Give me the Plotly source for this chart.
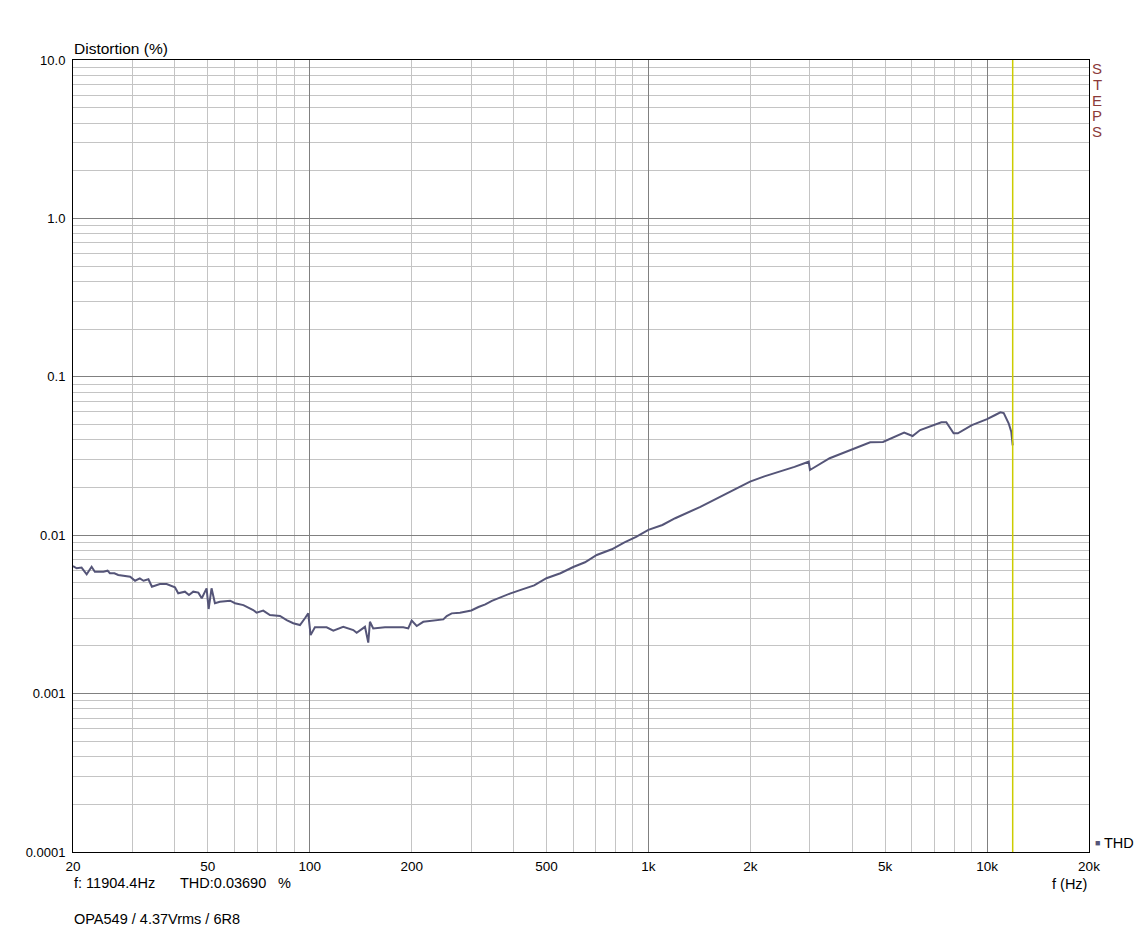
import plotly.graph_objects as go

# THD curve (frequency in Hz, distortion in %)
freq = [20, 20.5, 21.2, 21.95, 22.7, 23.2, 24.6, 25.3, 25.7, 26.5, 27.2, 29.5, 30.5, 31.5,
        32.3, 33.4, 34.2, 36.1, 37.8, 40.0, 40.9, 42.8, 44.0, 45.3, 46.9, 48.0, 49.6, 50.3,
        51.3, 52.5, 54.3, 58.2, 60.2, 63.7, 68.1, 69.7, 72.9, 76.3, 81.7, 85.5, 89.4, 93.6,
        96.8, 99.0, 100.6, 103.6, 112.2, 117.4, 125.6, 134.5, 137.6, 145.6, 148.9, 150.6,
        154.0, 166.8, 188.9, 195.4, 200, 207, 216.4, 237, 248, 253.8, 262.6, 277.8,
        300, 315, 330, 345, 360, 390, 420, 460, 500, 550, 600, 650, 704, 780, 850, 920,
        1000, 1100, 1200, 1424, 1700, 1996, 2200, 2452,
        2700, 2974, 3000, 3430, 3938, 4519, 4929, 5692, 6026, 6345, 7330, 7580, 7966, 8200,
        9020, 10000, 10570, 10950, 11200, 11580, 11790, 11904.4]
thd = [0.00639, 0.00618, 0.00625, 0.00566, 0.00632, 0.00588, 0.00588, 0.00597, 0.00575,
       0.00575, 0.00561, 0.00547, 0.00516, 0.00534, 0.00516, 0.00527, 0.00473, 0.00492,
       0.00492, 0.00469, 0.00430, 0.00440, 0.00419, 0.00440, 0.00434, 0.00400, 0.00462,
       0.00342, 0.00462, 0.00372, 0.00380, 0.00386, 0.00372, 0.00362, 0.00337, 0.00324,
       0.00334, 0.00313, 0.00309, 0.00291, 0.00278, 0.00271, 0.00299, 0.00321, 0.00234,
       0.00262, 0.00262, 0.00250, 0.00264, 0.00252, 0.00242, 0.00264, 0.00210, 0.00284,
       0.00258, 0.00262, 0.00262, 0.00258, 0.00289, 0.00267, 0.00284, 0.00289, 0.00294,
       0.00309, 0.00321, 0.00324,
       0.00335, 0.00352, 0.00366, 0.00385, 0.00400, 0.00428, 0.00452, 0.00482, 0.00535,
       0.00575, 0.00630, 0.00675, 0.00750, 0.00815, 0.00900, 0.00975,
       0.01080, 0.01160, 0.01280, 0.01510, 0.01830, 0.02180, 0.02350, 0.02520,
       0.02700, 0.02910, 0.02580,
       0.03060, 0.03450, 0.03860, 0.03880, 0.04440, 0.04230, 0.04610, 0.05160, 0.05160,
       0.04400, 0.04400, 0.04960, 0.05400, 0.05740, 0.05970, 0.05900, 0.05090, 0.04500,
       0.03690]

cursor_f = 11904.4
cursor_thd = 0.03690

x_tick_vals = [20, 50, 100, 200, 500, 1000, 2000, 5000, 10000, 20000]
x_tick_text = ["20", "50", "100", "200", "500", "1k", "2k", "5k", "10k", "20k"]
x_major = [100, 1000, 10000]
x_minor = [m * d for d in (10, 100, 1000) for m in range(2, 10) if 20 < m * d < 20000]
y_tick_vals = [0.0001, 0.001, 0.01, 0.1, 1, 10]
y_tick_text = ["0.0001", "0.001", "0.01", "0.1", "1.0", "10.0"]
y_minor = [m * d for d in (0.0001, 0.001, 0.01, 0.1, 1) for m in range(2, 10)]

LINE = "#555578"
FONT = "Liberation Sans, Arial, sans-serif"

fig = go.Figure()
fig.add_trace(go.Scatter(x=freq, y=thd, mode="lines", line=dict(color=LINE, width=2),
                         name="THD", showlegend=False, xaxis="x", yaxis="y"))
fig.add_trace(go.Scatter(x=[cursor_f, cursor_f], y=[0.0001, 10], mode="lines",
                         line=dict(color="#cccc00", width=1.5), showlegend=False,
                         xaxis="x2", yaxis="y"))

xr = [1.30103, 4.30103]
# page body has an 8px margin: plot area lands at x 73..1089, y 60..852
fig.update_layout(
    width=1140, height=924,
    margin=dict(l=65, r=59, t=52, b=80),
    paper_bgcolor="white", plot_bgcolor="white",
    font=dict(family=FONT, size=13, color="black"),
    xaxis=dict(type="log", range=xr, tickvals=x_major, showticklabels=False,
               showgrid=True, gridcolor="#808080", gridwidth=1, zeroline=False,
               showline=True, mirror=True, linecolor="black", linewidth=1, ticks="",
               minor=dict(tickvals=x_minor, showgrid=True, gridcolor="#c4c4c4",
                          gridwidth=1, ticks="")),
    xaxis2=dict(type="log", range=xr, overlaying="x", side="bottom",
                tickvals=x_tick_vals, ticktext=x_tick_text, showgrid=False,
                zeroline=False, showline=False, ticks="outside", ticklen=2,
                tickcolor="rgba(0,0,0,0)", tickfont=dict(size=13.5)),
    yaxis=dict(type="log", range=[-4, 1], tickvals=y_tick_vals, ticktext=y_tick_text,
               showgrid=True, gridcolor="#808080", gridwidth=1, zeroline=False,
               showline=True, mirror=True, linecolor="black", linewidth=1,
               ticks="outside", ticklen=4, tickcolor="rgba(0,0,0,0)",
               tickfont=dict(size=13),
               minor=dict(tickvals=y_minor, showgrid=True, gridcolor="#c4c4c4",
                          gridwidth=1, ticks="")),
)

def px_x(p):
    return (p - 73) / 1016.0

def px_y(p):
    return (852 - p) / 792.0

ann = []
def add(text, x, y, xa="left", ya="middle", size=14.5, color="black"):
    ann.append(dict(text=text, x=px_x(x), y=px_y(y), xref="paper", yref="paper",
                    xanchor=xa, yanchor=ya, showarrow=False,
                    font=dict(family=FONT, size=size, color=color), borderpad=0))

add("Distortion (%)", 73, 48, size=15.5)
for letter, yy in zip("STEPS", [68.3, 84.5, 100, 115.5, 131.7]):
    add(letter, 1097, yy, xa="center", size=15, color="#8b3a3a")
add("■", 1097, 843, xa="center", size=9, color=LINE)
add("THD", 1103, 843)
add("f: 11904.4Hz", 73, 883)
add("THD:0.03690", 179, 883)
add("%", 277, 883)
add("f (Hz)", 1088, 884, xa="right")
add("OPA549 / 4.37Vrms / 6R8", 73, 919)
fig.update_layout(annotations=ann)

fig.write_html("out.html")
